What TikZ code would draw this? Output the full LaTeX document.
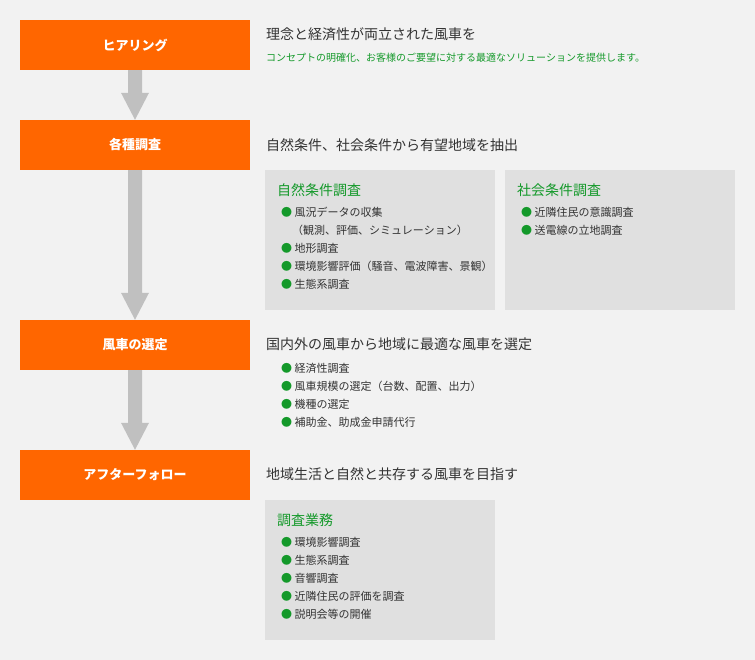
\documentclass[tikz,border=0pt]{standalone}
\usepackage{fontspec}
\usetikzlibrary{calc}
\setmainfont{Noto Sans CJK JP}
\definecolor{bg}{HTML}{F2F2F2}
\definecolor{org}{HTML}{FF6600}
\definecolor{panel}{HTML}{E0E0E0}
\definecolor{arr}{HTML}{C0C0C0}
\definecolor{grn}{HTML}{14992A}
\definecolor{txt}{HTML}{333333}
\begin{document}
\begin{tikzpicture}[x=1pt,y=-1pt,
 stepbox/.style={fill=org,text=white,minimum width=230pt,minimum height=50pt,inner sep=0,font=\fontsize{13}{15}\selectfont\bfseries},
 headline/.style={anchor=west,text=txt,inner sep=0,font=\fontsize{14}{16}\selectfont},
 ptitle/.style={anchor=west,text=grn,inner sep=0,font=\fontsize{14}{16}\selectfont},
 blist/.style={anchor=north west,text=txt,inner sep=0,align=left,font=\fontsize{11}{18}\selectfont}]
\fill[bg] (0,0) rectangle (755,660);
\useasboundingbox (0,0) rectangle (755,660);
\node[stepbox] (s1) at (135,45) {ヒアリング};
\node[stepbox] (s2) at (135,145) {各種調査};
\node[stepbox] (s3) at (135,345) {風車の選定};
\node[stepbox] (s4) at (135,475) {アフターフォロー};
\foreach \a/\b in {s1/s2,s2/s3,s3/s4}{
 \path (\a.south) coordinate (p) (\b.north) coordinate (q);
 \fill[arr] ($(p)+(-7,0)$) -- ($(q)+(-7,-27)$) -- ($(q)+(-14,-27)$) -- (q) -- ($(q)+(14,-27)$) -- ($(q)+(7,-27)$) -- ($(p)+(7,0)$) -- cycle;
}
\node[headline] (h1) at (266,34) {理念と経済性が両立された風車を};
\node[anchor=west,inner sep=0,text=grn,font=\fontsize{10}{12}\selectfont] (h1b) at (266,58) {コンセプトの明確化、お客様のご要望に対する最適なソリューションを提供します。};
\node[headline] (h2) at (266,145) {自然条件、社会条件から有望地域を抽出};
\fill[panel] (265,170) rectangle (495,310);
\fill[panel] (505,170) rectangle (735,310);
\node[ptitle] (t1) at (277,190) {自然条件調査};
\node[blist] (l1) at (281,207) {{\color{grn}●} 風況データの収集\\ \hspace{11pt}（観測、評価、シミュレーション）\\{\color{grn}●} 地形調査\\{\color{grn}●} 環境影響評価（騒音、電波障害、景観）\\{\color{grn}●} 生態系調査};
\node[ptitle] (t2) at (517,190) {社会条件調査};
\node[blist] (l2) at (521,207) {{\color{grn}●} 近隣住民の意識調査\\{\color{grn}●} 送電線の立地調査};
\node[headline] (h3) at (266,344) {国内外の風車から地域に最適な風車を選定};
\node[blist] (l3) at (281,363) {{\color{grn}●} 経済性調査\\{\color{grn}●} 風車規模の選定（台数、配置、出力）\\{\color{grn}●} 機種の選定\\{\color{grn}●} 補助金、助成金申請代行};
\node[headline] (h4) at (266,474) {地域生活と自然と共存する風車を目指す};
\fill[panel] (265,500) rectangle (495,640);
\node[ptitle] (t3) at (277,520) {調査業務};
\node[blist] (l4) at (281,537) {{\color{grn}●} 環境影響調査\\{\color{grn}●} 生態系調査\\{\color{grn}●} 音響調査\\{\color{grn}●} 近隣住民の評価を調査\\{\color{grn}●} 説明会等の開催};
\end{tikzpicture}
\end{document}
